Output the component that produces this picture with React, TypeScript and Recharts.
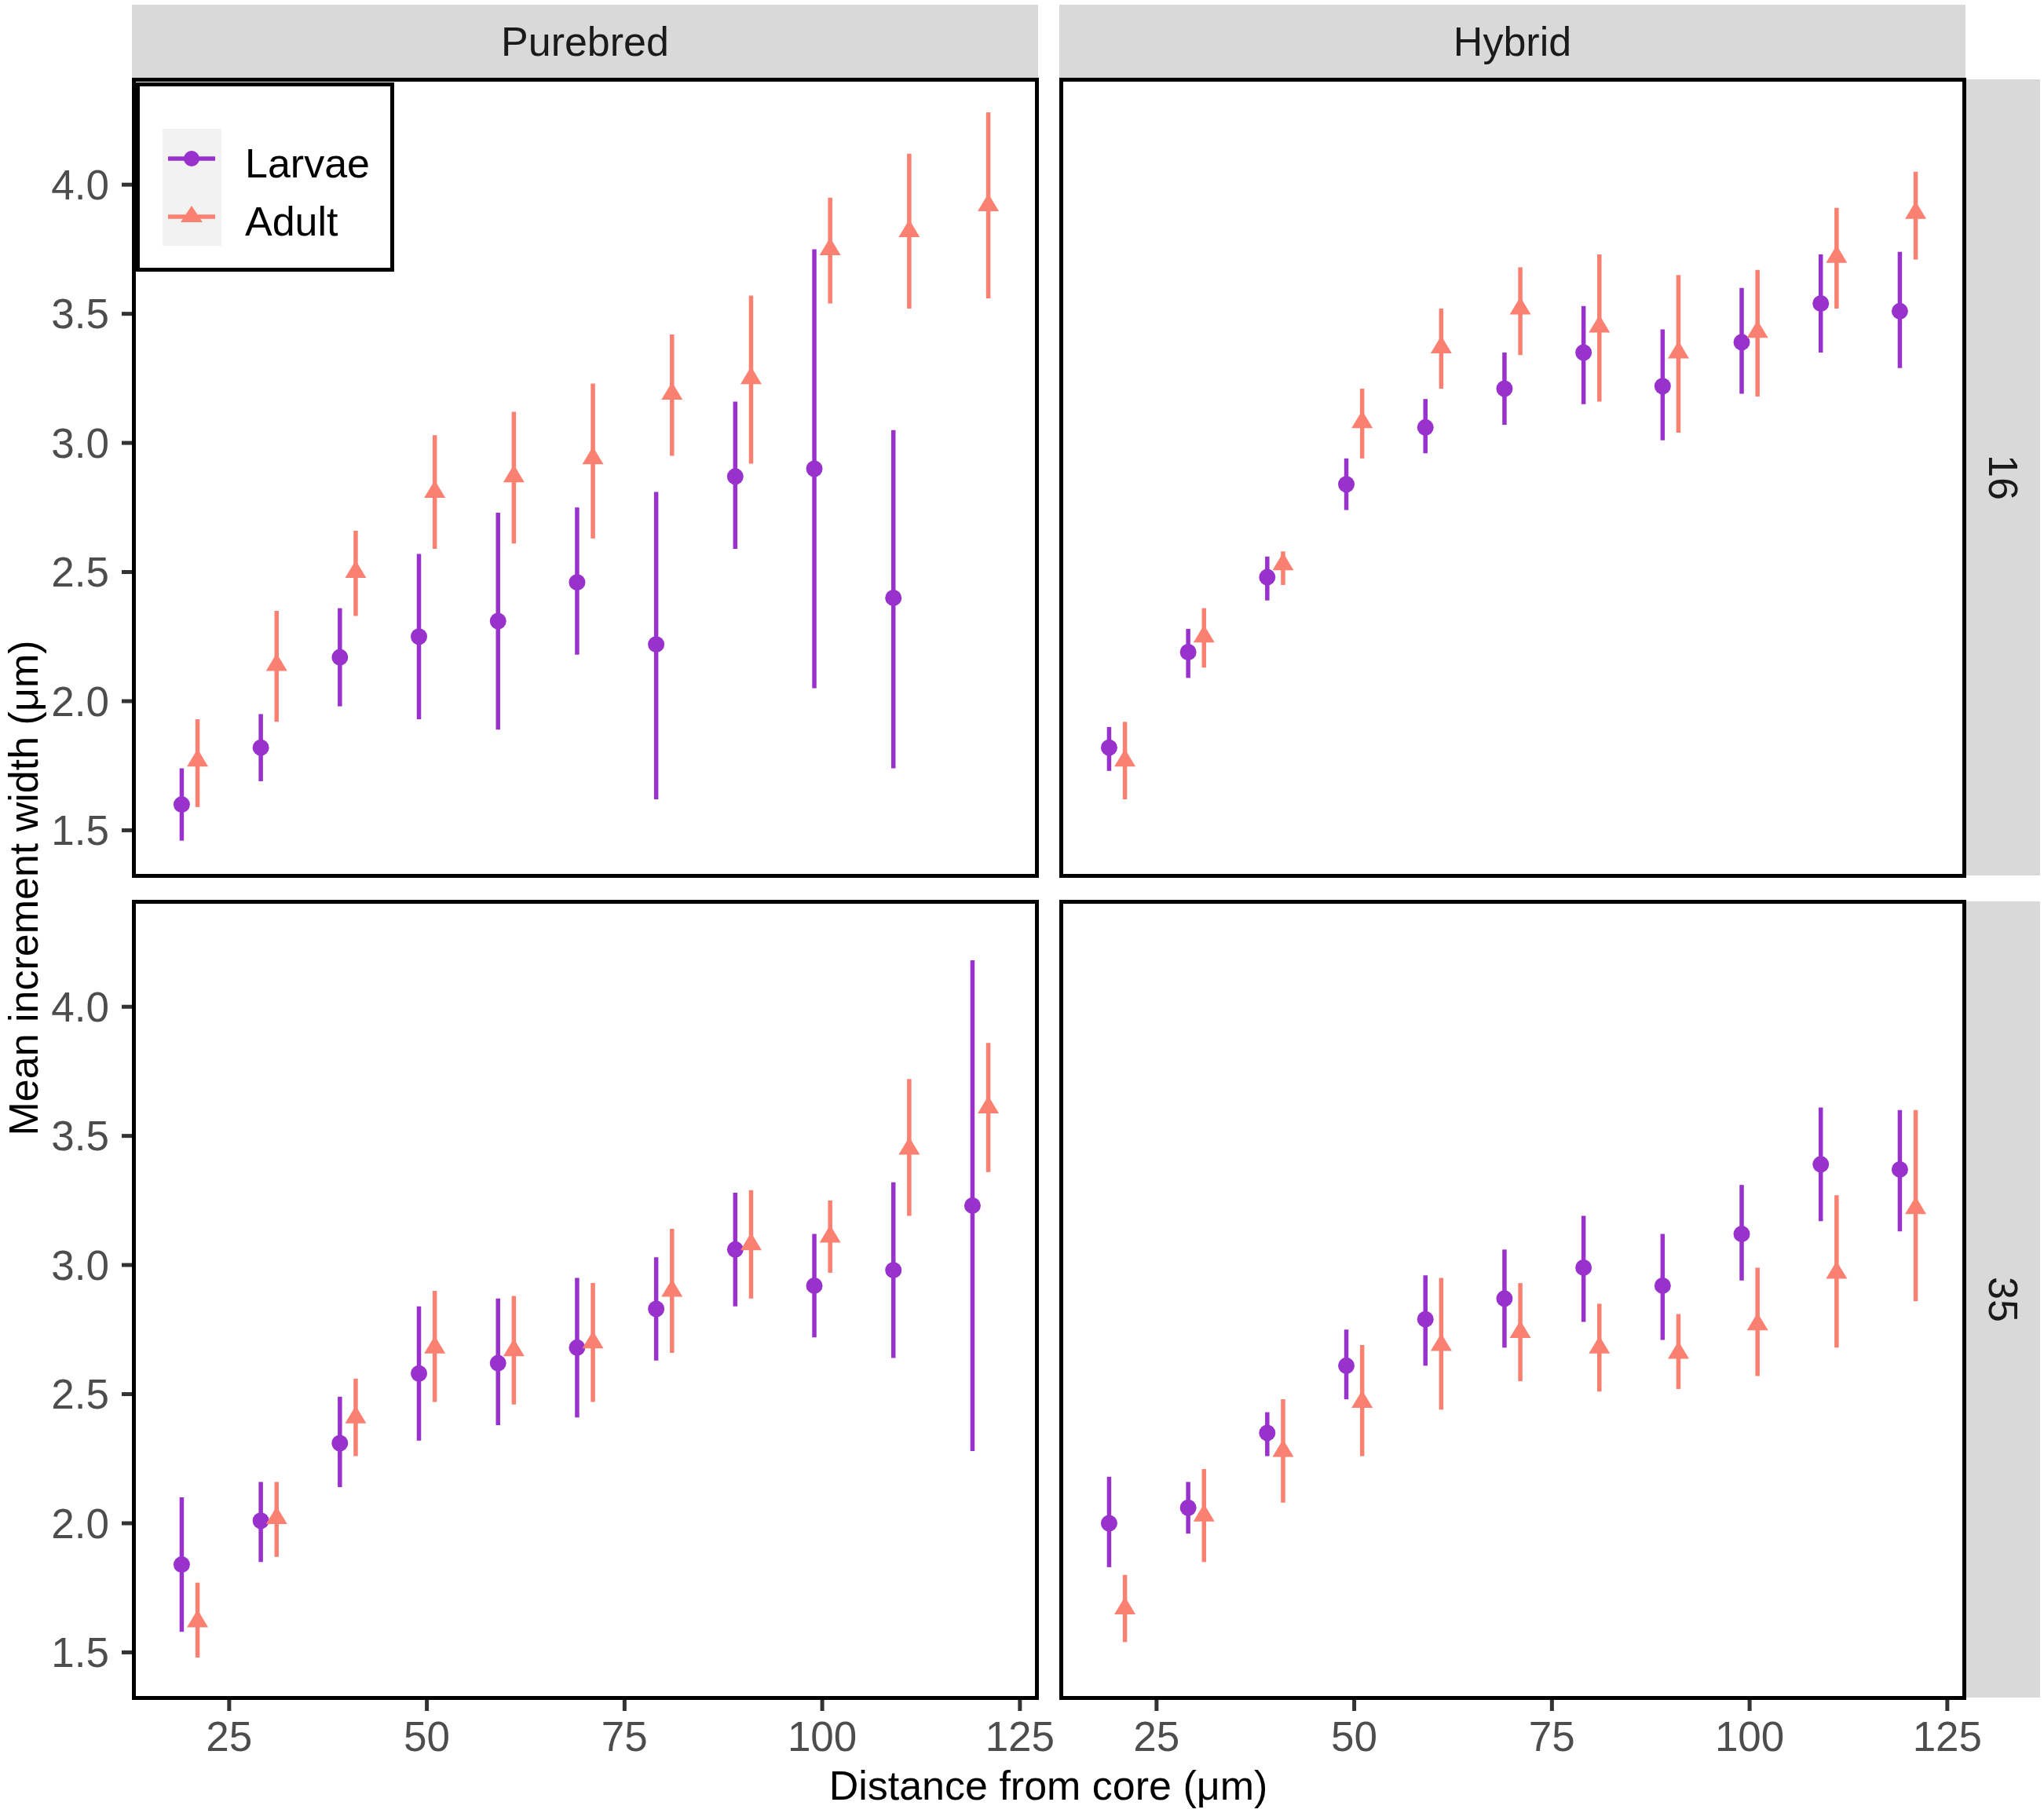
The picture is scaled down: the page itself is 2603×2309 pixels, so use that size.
import React from "react";
import { ScatterChart, Scatter, XAxis, YAxis, ErrorBar } from "recharts";

const LARVAE = "#9932CC";
const ADULT = "#FA8072";
const FONT = "'Liberation Sans', Arial, Helvetica, sans-serif";

const distances = [20, 30, 40, 50, 60, 70, 80, 90, 100, 110, 120];
const xTicks = [25, 50, 75, 100, 125];
const yTicks = [1.5, 2.0, 2.5, 3.0, 3.5, 4.0];

// Purebred, 16
const pureLarvae16Mean = [1.60, 1.82, 2.17, 2.25, 2.31, 2.46, 2.22, 2.87, 2.90, 2.40, null];
const pureLarvae16Lo = [1.46, 1.69, 1.98, 1.93, 1.89, 2.18, 1.62, 2.59, 2.05, 1.74, null];
const pureLarvae16Hi = [1.74, 1.95, 2.36, 2.57, 2.73, 2.75, 2.81, 3.16, 3.75, 3.05, null];
const pureAdult16Mean = [1.77, 2.14, 2.50, 2.81, 2.87, 2.94, 3.19, 3.25, 3.75, 3.82, 3.92];
const pureAdult16Lo = [1.59, 1.92, 2.33, 2.59, 2.61, 2.63, 2.95, 2.92, 3.54, 3.52, 3.56];
const pureAdult16Hi = [1.93, 2.35, 2.66, 3.03, 3.12, 3.23, 3.42, 3.57, 3.95, 4.12, 4.28];

// Hybrid, 16
const hybLarvae16Mean = [1.82, 2.19, 2.48, 2.84, 3.06, 3.21, 3.35, 3.22, 3.39, 3.54, 3.51];
const hybLarvae16Lo = [1.73, 2.09, 2.39, 2.74, 2.96, 3.07, 3.15, 3.01, 3.19, 3.35, 3.29];
const hybLarvae16Hi = [1.90, 2.28, 2.56, 2.94, 3.17, 3.35, 3.53, 3.44, 3.60, 3.73, 3.74];
const hybAdult16Mean = [1.77, 2.25, 2.53, 3.08, 3.37, 3.52, 3.45, 3.35, 3.43, 3.72, 3.89];
const hybAdult16Lo = [1.62, 2.13, 2.45, 2.94, 3.21, 3.34, 3.16, 3.04, 3.18, 3.52, 3.71];
const hybAdult16Hi = [1.92, 2.36, 2.58, 3.21, 3.52, 3.68, 3.73, 3.65, 3.67, 3.91, 4.05];

// Purebred, 35
const pureLarvae35Mean = [1.84, 2.01, 2.31, 2.58, 2.62, 2.68, 2.83, 3.06, 2.92, 2.98, 3.23];
const pureLarvae35Lo = [1.58, 1.85, 2.14, 2.32, 2.38, 2.41, 2.63, 2.84, 2.72, 2.64, 2.28];
const pureLarvae35Hi = [2.10, 2.16, 2.49, 2.84, 2.87, 2.95, 3.03, 3.28, 3.12, 3.32, 4.18];
const pureAdult35Mean = [1.62, 2.02, 2.41, 2.68, 2.67, 2.70, 2.90, 3.08, 3.11, 3.45, 3.61];
const pureAdult35Lo = [1.48, 1.87, 2.26, 2.47, 2.46, 2.47, 2.66, 2.87, 2.97, 3.19, 3.36];
const pureAdult35Hi = [1.77, 2.16, 2.56, 2.90, 2.88, 2.93, 3.14, 3.29, 3.25, 3.72, 3.86];

// Hybrid, 35
const hybLarvae35Mean = [2.00, 2.06, 2.35, 2.61, 2.79, 2.87, 2.99, 2.92, 3.12, 3.39, 3.37];
const hybLarvae35Lo = [1.83, 1.96, 2.26, 2.48, 2.61, 2.68, 2.78, 2.71, 2.94, 3.17, 3.13];
const hybLarvae35Hi = [2.18, 2.16, 2.43, 2.75, 2.96, 3.06, 3.19, 3.12, 3.31, 3.61, 3.60];
const hybAdult35Mean = [1.67, 2.03, 2.28, 2.47, 2.69, 2.74, 2.68, 2.66, 2.77, 2.97, 3.22];
const hybAdult35Lo = [1.54, 1.85, 2.08, 2.26, 2.44, 2.55, 2.51, 2.52, 2.57, 2.68, 2.86];
const hybAdult35Hi = [1.80, 2.21, 2.48, 2.69, 2.95, 2.93, 2.85, 2.81, 2.99, 3.27, 3.60];

// position_dodge-like offset
const DODGE = 1;

function rows(mean: (number | null)[], lo: (number | null)[], hi: (number | null)[], dodge: number) {
  const out: any[] = [];
  distances.forEach((d, i) => {
    const m = mean[i];
    if (m == null) return;
    out.push({ x: d + dodge, y: m, err: [m - (lo[i] as number), (hi[i] as number) - m] });
  });
  return out;
}

const DotShape = (p: any) => <circle cx={p.cx} cy={p.cy} r={10.5} fill={LARVAE} />;
const TriShape = (p: any) => {
  const R = 15;
  const h = 13.5;
  return (
    <polygon
      points={`${p.cx},${p.cy - R} ${p.cx - h},${p.cy + R / 2} ${p.cx + h},${p.cy + R / 2}`}
      fill={ADULT}
    />
  );
};

// layout (px)
const PLOT_W = 1150;
const PLOT_H = 1014;
const COL_X = [170, 1351];
const ROW_Y = [101, 1148];
const Y_AXIS_W = 170;
const X_AXIS_H = 110;
const TICK_FONT = 53;

function Panel({ larvae, adult, col, row }: { larvae: any[]; adult: any[]; col: number; row: number }) {
  const showY = col === 0;
  const showX = row === 1;
  const left = showY ? 0 : COL_X[col];
  const width = (showY ? Y_AXIS_W : 0) + PLOT_W + 60;
  const height = PLOT_H + (showX ? X_AXIS_H : 0);
  return (
    <div style={{ position: "absolute", left, top: ROW_Y[row] }}>
      <ScatterChart width={width} height={height} margin={{ top: 0, right: 60, bottom: 0, left: 0 }}>
        <XAxis
          type="number"
          dataKey="x"
          domain={[12.9, 127.1]}
          allowDataOverflow
          ticks={xTicks}
          interval={0}
          hide={!showX}
          height={X_AXIS_H}
          axisLine={false}
          tickSize={17}
          tickMargin={13}
          tickLine={{ stroke: "#333333", strokeWidth: 5 }}
          tick={{ fontSize: TICK_FONT, fill: "#4D4D4D" }}
        />
        <YAxis
          type="number"
          dataKey="y"
          domain={[1.325, 4.408]}
          allowDataOverflow
          ticks={yTicks}
          interval={0}
          hide={!showY}
          width={Y_AXIS_W}
          axisLine={false}
          tickSize={15}
          tickMargin={16}
          tickLine={{ stroke: "#333333", strokeWidth: 5 }}
          tick={{ fontSize: TICK_FONT, fill: "#4D4D4D" }}
          tickFormatter={(v: number) => v.toFixed(1)}
        />
        <Scatter data={larvae} shape={DotShape} isAnimationActive={false}>
          <ErrorBar dataKey="err" direction="y" width={0} stroke={LARVAE} strokeWidth={5.5} isAnimationActive={false} />
        </Scatter>
        <Scatter data={adult} shape={TriShape} isAnimationActive={false}>
          <ErrorBar dataKey="err" direction="y" width={0} stroke={ADULT} strokeWidth={5.5} isAnimationActive={false} />
        </Scatter>
      </ScatterChart>
    </div>
  );
}

const box = (l: number, t: number, w: number, h: number): React.CSSProperties => ({
  position: "absolute",
  left: l,
  top: t,
  width: w,
  height: h,
  boxSizing: "border-box",
});

export default function App() {
  const panels = [
    { larvae: rows(pureLarvae16Mean, pureLarvae16Lo, pureLarvae16Hi, -DODGE), adult: rows(pureAdult16Mean, pureAdult16Lo, pureAdult16Hi, DODGE), col: 0, row: 0 },
    { larvae: rows(hybLarvae16Mean, hybLarvae16Lo, hybLarvae16Hi, -DODGE), adult: rows(hybAdult16Mean, hybAdult16Lo, hybAdult16Hi, DODGE), col: 1, row: 0 },
    { larvae: rows(pureLarvae35Mean, pureLarvae35Lo, pureLarvae35Hi, -DODGE), adult: rows(pureAdult35Mean, pureAdult35Lo, pureAdult35Hi, DODGE), col: 0, row: 1 },
    { larvae: rows(hybLarvae35Mean, hybLarvae35Lo, hybLarvae35Hi, -DODGE), adult: rows(hybAdult35Mean, hybAdult35Lo, hybAdult35Hi, DODGE), col: 1, row: 1 },
  ];
  const colLabels = ["Purebred", "Hybrid"];
  const rowLabels = ["16", "35"];

  return (
    <div style={{ position: "absolute", left: 0, top: 0, width: 2603, height: 2309, background: "#fff", fontFamily: FONT, overflow: "hidden" }}>
      {/* strips on top */}
      {colLabels.map((lab, c) => (
        <div key={lab} style={{ ...box(COL_X[c] - 2, 6, PLOT_W + 4, 93), background: "#D9D9D9", display: "flex", alignItems: "center", justifyContent: "center", fontSize: 52, color: "#1A1A1A" }}>
          {lab}
        </div>
      ))}
      {/* strips on right */}
      {rowLabels.map((lab, r) => (
        <div key={lab} style={{ ...box(2504, ROW_Y[r], 94, PLOT_H), background: "#D9D9D9", display: "flex", alignItems: "center", justifyContent: "center" }}>
          <span style={{ fontSize: 52, color: "#1A1A1A", transform: "rotate(90deg)", whiteSpace: "nowrap" }}>{lab}</span>
        </div>
      ))}

      {panels.map((p, i) => (
        <Panel key={i} {...p} />
      ))}

      {/* panel borders */}
      {panels.map((p, i) => (
        <div key={"b" + i} style={{ ...box(COL_X[p.col] - 2.5, ROW_Y[p.row] - 2.5, PLOT_W + 5, PLOT_H + 5), border: "5px solid #000", pointerEvents: "none" }} />
      ))}

      {/* legend */}
      <div style={{ ...box(173, 105, 329, 241), border: "5px solid #000", background: "#fff" }}>
        <div style={{ ...box(29, 54, 75, 149), background: "#F2F2F2" }} />
        <svg style={{ position: "absolute", left: 29, top: 54 }} width={75} height={149}>
          <line x1={7} x2={67} y1={38} y2={38} stroke={LARVAE} strokeWidth={5.5} />
          <circle cx={37} cy={38} r={10} fill={LARVAE} />
          <line x1={7} x2={67} y1={112} y2={112} stroke={ADULT} strokeWidth={5.5} />
          <polygon points={`37,${112 - 14} ${37 - 14},${112 + 7} ${37 + 14},${112 + 7}`} fill={ADULT} />
        </svg>
        <div style={{ position: "absolute", left: 134, top: 72, fontSize: 52, lineHeight: "52px", color: "#000" }}>Larvae</div>
        <div style={{ position: "absolute", left: 134, top: 146, fontSize: 52, lineHeight: "52px", color: "#000" }}>Adult</div>
      </div>

      {/* axis titles */}
      <div style={{ position: "absolute", left: 1335, top: 2274, transform: "translate(-50%, -50%)", fontSize: 52, color: "#000", whiteSpace: "nowrap" }}>
        Distance from core (μm)
      </div>
      <div style={{ position: "absolute", left: 30, top: 1131, transform: "translate(-50%, -50%) rotate(-90deg)", fontSize: 52, color: "#000", whiteSpace: "nowrap" }}>
        Mean increment width (μm)
      </div>
    </div>
  );
}
